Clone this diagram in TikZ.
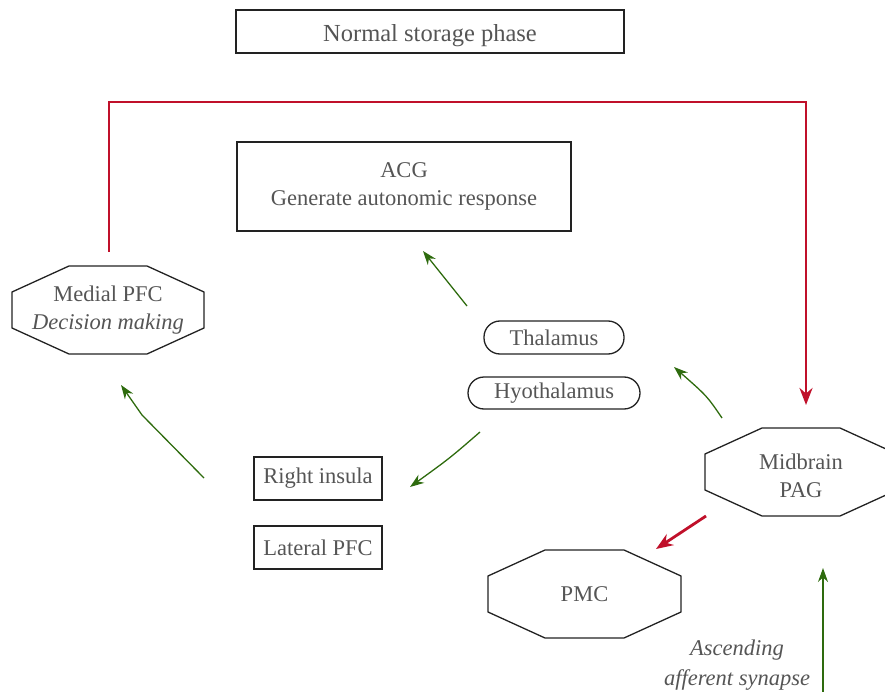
\documentclass[tikz,border=0pt]{standalone}
\usepackage{fontspec}
\setmainfont{Liberation Serif}
\usetikzlibrary{arrows.meta}
\definecolor{txtgray}{HTML}{555555}
\definecolor{linegray}{HTML}{222222}
\definecolor{redline}{HTML}{C0102A}
\definecolor{greenline}{HTML}{2E6B0E}
\newcommand\octframe[1]{%
  \draw[boxline] ([xshift=57pt]#1.north west) -- ([xshift=-57pt]#1.north east)
    -- ([yshift=-26pt]#1.north east) -- ([yshift=26pt]#1.south east)
    -- ([xshift=-57pt]#1.south east) -- ([xshift=57pt]#1.south west)
    -- ([yshift=26pt]#1.south west) -- ([yshift=-26pt]#1.north west) -- cycle;}
\tikzset{
  lbl/.style={text=txtgray, font=\fontsize{22.5}{28}\selectfont, align=center, inner sep=0pt, outer sep=0pt},
  boxline/.style={draw=linegray, line width=1.3pt},
  rectbox/.style={lbl, boxline, rectangle},
  pillbox/.style={lbl, boxline, rectangle, rounded corners=16pt},
  octbox/.style={lbl, minimum width=192pt, minimum height=88pt},
  grarrow/.style={draw=greenline, line width=1.3pt, -{Stealth[length=14pt,width=10pt]}},
  rdline/.style={draw=redline, line width=2.8pt},
  rdarrow/.style={rdline, -{Stealth[length=17pt,width=13pt]}},
}
\begin{document}
\begin{tikzpicture}[x=1pt,y=-1pt]
\useasboundingbox (0,0) rectangle (885,692);
\clip (0,0) rectangle (885,692);
% boxes
\node[rectbox, minimum width=388pt, minimum height=43pt, font=\fontsize{24.5}{28}\selectfont, text height=20pt, text depth=0pt] (title) at (430,31.5) {Normal storage phase};
\node[rectbox, minimum width=334pt, minimum height=89pt] (acg) at (404,186.5) {ACG\\Generate autonomic response};
\node[rectbox, minimum width=128pt, minimum height=43pt] (rins) at (318,478.5) {Right insula};
\node[rectbox, minimum width=128pt, minimum height=43pt] (lpfc) at (318,547.5) {Lateral PFC};
\node[pillbox, minimum width=140pt, minimum height=33pt] (thal) at (554,337.5) {Thalamus};
\node[pillbox, minimum width=172pt, minimum height=32pt] (hyo) at (554,393) {Hyothalamus};
% octagons
\node[octbox] (mpfc) at (108,310) {Medial PFC\\\textit{Decision making}};
\octframe{mpfc}
\node[octbox] (pag) at (801,472) {};
\octframe{pag}
\node[lbl] (pagtxt) at (801,476) {Midbrain\\PAG};
\node[octbox, minimum width=193pt] (pmc) at (584.5,594) {PMC};
\octframe{pmc}
\node[lbl, font=\fontsize{22.5}{30}\selectfont\itshape] (asc) at (737,665) {Ascending\\afferent synapse};
% connector end points
\coordinate (mpfcTop) at (109,252);
\coordinate (cornerL) at (109,102);
\coordinate (cornerR) at (806,102);
\coordinate (pagIn) at (806,405);
\coordinate (pagOut) at (706,516);
\coordinate (pmcIn) at (656,549);
\coordinate (ascStart) at (823,692);
\coordinate (pagBelow) at (823,568);
\coordinate (thalOut) at (467,306);
\coordinate (acgIn) at (423,251);
\coordinate (pagLeft) at (722,418);
\coordinate (thalIn) at (674,367);
\coordinate (hyoOut) at (480,432);
\coordinate (rinsIn) at (410,487);
\coordinate (rinsOut) at (204,478);
\coordinate (mpfcBend) at (142,415);
\coordinate (mpfcIn) at (121,385);
% red connectors
\draw[rdarrow] (mpfcTop) -- (cornerL) -- (cornerR) -- (pagIn);
\draw[rdarrow] (pagOut) -- (pmcIn);
% green connectors
\draw[grarrow] (ascStart) -- (pagBelow);
\draw[grarrow] (thalOut) -- (acgIn);
\draw[grarrow] (pagLeft) .. controls (707,396) .. (thalIn);
\draw[grarrow] (hyoOut) .. controls (450,458) .. (rinsIn);
\draw[grarrow] (rinsOut) -- (mpfcBend) -- (mpfcIn);
\end{tikzpicture}
\end{document}
